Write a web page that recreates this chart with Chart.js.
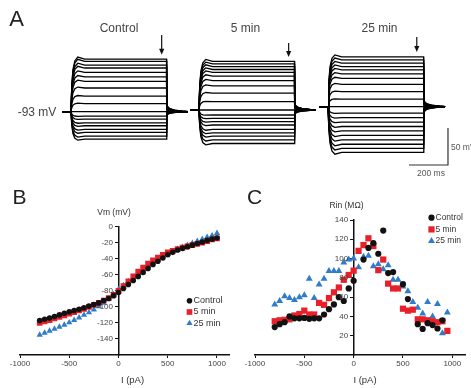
<!DOCTYPE html>
<html>
<head>
<meta charset="utf-8">
<script src="https://cdn.jsdelivr.net/npm/chart.js@4.4.1/dist/chart.umd.min.js"></script>
<style>
  html, body { margin: 0; padding: 0; background: #fff; }
  #fig { position: relative; width: 471px; height: 388px; overflow: hidden; font-family: Arial, "Liberation Sans", sans-serif; }
  canvas { position: absolute; }
  .t { position: absolute; transform: translate(-50%, -50%); line-height: 1; white-space: nowrap; color: #333; }
  .l { position: absolute; transform: translate(0, -50%); line-height: 1; white-space: nowrap; color: #333; }
</style>
</head>
<body>
<div id="fig">
  <canvas id="chart-traces" width="471" height="190" style="left:0;top:0"></canvas>
  <canvas id="chart-iv" width="240" height="208" style="left:0;top:180px"></canvas>
  <canvas id="chart-rin" width="236" height="208" style="left:235px;top:180px"></canvas>

  <div class="t" style="left:16.5px;top:18.5px;font-size:22px;color:#222">A</div>
  <div class="t" style="left:119px;top:28px;font-size:12px;color:#444">Control</div>
  <div class="t" style="left:245.5px;top:28px;font-size:12px;color:#444">5 min</div>
  <div class="t" style="left:379.5px;top:28px;font-size:12px;color:#444">25 min</div>
  <div class="t" style="left:37px;top:111.5px;font-size:12px;color:#444">-93 mV</div>
  <div class="l" style="left:451px;top:147px;font-size:8.5px;color:#555">50 mV</div>
  <div class="t" style="left:431px;top:173px;font-size:8.5px;color:#555">200 ms</div>

  <div class="t" style="left:19.5px;top:195.5px;font-size:21px;color:#222">B</div>
  <div class="t" style="left:114px;top:212px;font-size:8.5px">Vm (mV)</div>
  <div class="t" style="left:132.5px;top:379.5px;font-size:9.5px">I (pA)</div>

  <div class="t" style="left:254.5px;top:195.5px;font-size:21px;color:#222">C</div>
  <div class="t" style="left:346.5px;top:205px;font-size:8.5px">Rin (MΩ)</div>
  <div class="t" style="left:365px;top:379.5px;font-size:9.5px">I (pA)</div>
</div>

<script>
// ---- panel A : voltage responses (steady-state level of each trace, mV)
const controlLevels = [-22, -25, -30, -34, -40, -46, -52, -61, -72, -82, -93, -99, -103, -108, -112, -117, -121, -126, -130];
const min5Levels = [-25, -28.5, -32, -36, -40, -45, -51, -58, -68, -79.5, -90.7, -97.5, -102, -106.5, -111, -117, -121.5, -126, -131, -136];
const min25Levels = [-19, -23, -27.5, -32, -36.5, -42, -48, -56, -66, -76, -86.2, -95, -101, -107, -113, -119, -125, -131, -137, -142.5, -148];
const traceBaselineMv = [-93, -90.7, -86.2];
const traceOnsetMs = [0, 656, 1318];
// time course of a step (ms from onset) and fraction of the steady-state deflection
const stepTimeMs = [-45, 0, 4, 10, 20, 35, 70, 490, 491, 495, 505, 530, 570, 600];
const stepFraction = [0, 0, 0.5, 0.8, 0.97, 1.04, 1, 1, 0.16, 0.1, 0.06, 0.03, 0.01, 0];
const arrowOffsetMs = [465, 460, 455];
const arrowTipMv = [-16, -19, -12.3];
const arrowTailMv = [10.6, -0.2, 8];
const scaleBarCornerMs = 1933;
const scaleBarBottomMv = -165;
const scaleBarMs = 200;
const scaleBarMv = 50;

// ---- panel B : I-V relation
const ivCurrents = [-800, -750, -700, -650, -600, -550, -500, -450, -400, -350, -300, -250, -200, -150, -100, -50, 0,
  50, 100, 150, 200, 250, 300, 350, 400, 450, 500, 550, 600, 650, 700, 750, 800, 850, 900, 950, 1000];
const ivControl = [-117, -115.5, -114, -112, -110, -108, -106, -104.5, -103, -101, -99, -97, -95, -92, -89.5, -86, -82,
  -77, -72, -67, -62, -57, -52, -47, -43, -39, -35, -32, -29, -27, -25, -23, -21, -19, -17, -15.5, -14];
const iv5min = [-120, -118, -116.5, -114.5, -112.5, -110.5, -108.5, -106.5, -104.5, -102.5, -100, -97.5, -95, -92, -89, -85, -80,
  -74, -68, -62, -56, -51, -46, -42, -38.5, -35, -32, -30, -28, -26, -24.5, -23, -21.5, -20, -18, -16, -14.5];
const iv25min = [-135, -132.5, -130, -127.5, -125, -122.5, -119.5, -116.5, -113.5, -110, -107, -103.5, -99.5, -95, -90, -84.5, -78,
  -73, -68, -63, -58, -53, -49, -44.5, -40.5, -37, -34, -31, -28, -25.5, -23, -20.5, -18, -15.5, -13, -11, -8];
const ivTicksX = [-1000, -500, 0, 500, 1000];
const ivTicksY = [0, -20, -40, -60, -80, -100, -120, -140];

// ---- panel C : input resistance
const rinCurrents = [-800, -750, -700, -650, -600, -550, -500, -450, -400, -350, -300, -250, -200, -150, -100, -50, 0,
  50, 100, 150, 200, 250, 300, 350, 400, 450, 500, 550, 600, 650, 700, 750, 800, 850, 900, 950];
const rinControl = [29, 32, 34, 40, 38, 38, 38.5, 37.5, 38, 38, 42, 47.5, 52.5, 60, 56, 69, 77,
  null, 99, 111, 116, 105, 129, 85, 86, null, 73.5, 58, null, 32, 27, 33, 31, 27.5, 36, null];
const rin5min = [35, 36, 36.5, 37, 41, 42.5, 46, 42, 42, 54, 52, 59, 65, 70, 78, 83, 87.5,
  108, 114, 121, 113, 88, 99, 74, 69, 69, 48, 46, 47, 37, 37, 36, 35, 34, 35, 25];
const rin25min = [52.5, 56, 61, 59, 57, 60, 62, 79, 59, 73, 79, 87, 87, 87, 96, 99, 100,
  91, 102, 103, 92, 94, 89, 93, 78, 78, 71, 66, 55, 49, 43, 55, 40, 53, 22.5, 44];
const rinTicksX = [-1000, -500, 0, 500, 1000];
const rinTicksY = [20, 40, 60, 80, 100, 120, 140];

const seriesLabels = ['Control', '5 min', '25 min'];
const seriesColors = ['#111111', '#e8202a', '#2f7cc9'];
const seriesStyles = ['circle', 'rect', 'triangle'];

Chart.defaults.font.family = 'Arial, "Liberation Sans", sans-serif';

function drawMarker(ctx, style, r, x, y) {
  ctx.beginPath();
  if (style === 'circle') {
    ctx.arc(x, y, r, 0, Math.PI * 2);
  } else if (style === 'rect') {
    const s = r * Math.SQRT1_2;
    ctx.rect(x - s, y - s, 2 * s, 2 * s);
  } else {
    ctx.moveTo(x, y - r);
    ctx.lineTo(x + r * 0.866, y + r * 0.5);
    ctx.lineTo(x - r * 0.866, y + r * 0.5);
    ctx.closePath();
  }
  ctx.fill();
}

const inlineLegend = {
  id: 'inlineLegend',
  afterDraw(chart, args, opts) {
    const ctx = chart.ctx;
    ctx.save();
    ctx.font = opts.fontSize + 'px Arial, "Liberation Sans", sans-serif';
    ctx.textBaseline = 'middle';
    chart.data.datasets.forEach((ds, i) => {
      const y = opts.y + i * opts.rowGap;
      ctx.fillStyle = ds.backgroundColor;
      drawMarker(ctx, ds.pointStyle, ds.pointRadius, opts.x, y);
      ctx.fillStyle = '#333';
      ctx.fillText(ds.label, opts.x + opts.textGap, y);
    });
    ctx.restore();
  }
};

// y tick labels drawn just left of the y axis, which crosses at x = 0
const centreAxisLabels = {
  id: 'centreAxisLabels',
  afterDraw(chart) {
    const { ctx, scales: { x, y } } = chart;
    const axisPx = x.getPixelForValue(0);
    ctx.save();
    ctx.font = '8px Arial, "Liberation Sans", sans-serif';
    ctx.fillStyle = '#444';
    ctx.textAlign = 'right';
    ctx.textBaseline = 'middle';
    y.ticks.forEach(t => ctx.fillText(String(t.value), axisPx - 5.5, y.getPixelForValue(t.value)));
    ctx.restore();
  }
};

const arrowMarks = {
  id: 'arrowMarks',
  afterDatasetsDraw(chart) {
    const { ctx, scales: { x, y } } = chart;
    ctx.save();
    ctx.strokeStyle = '#111';
    ctx.fillStyle = '#111';
    ctx.lineWidth = 1.2;
    traceOnsetMs.forEach((onset, k) => {
      const px = x.getPixelForValue(onset + arrowOffsetMs[k]);
      const top = y.getPixelForValue(arrowTailMv[k]);
      const tip = y.getPixelForValue(arrowTipMv[k]);
      ctx.beginPath();
      ctx.moveTo(px, top);
      ctx.lineTo(px, tip - 4);
      ctx.stroke();
      ctx.beginPath();
      ctx.moveTo(px - 2.6, tip - 6);
      ctx.lineTo(px + 2.6, tip - 6);
      ctx.lineTo(px, tip);
      ctx.closePath();
      ctx.fill();
    });
    ctx.restore();
  }
};

// ---- panel A chart
const traceDatasets = [];
[controlLevels, min5Levels, min25Levels].forEach((levels, k) => {
  const base = traceBaselineMv[k];
  levels.forEach(level => {
    traceDatasets.push({
      data: stepTimeMs.map((t, i) => ({ x: traceOnsetMs[k] + t, y: base + stepFraction[i] * (level - base) })),
      showLine: true,
      borderColor: '#000',
      borderWidth: 1.3,
      pointRadius: 0,
    });
  });
});
traceDatasets.push({
  data: [
    { x: scaleBarCornerMs - scaleBarMs, y: scaleBarBottomMv },
    { x: scaleBarCornerMs, y: scaleBarBottomMv },
    { x: scaleBarCornerMs, y: scaleBarBottomMv + scaleBarMv },
  ],
  showLine: true,
  borderColor: '#333',
  borderWidth: 1.2,
  pointRadius: 0,
});

new Chart(document.getElementById('chart-traces'), {
  type: 'scatter',
  data: { datasets: traceDatasets },
  options: {
    responsive: false,
    animation: false,
    devicePixelRatio: 1,
    layout: { padding: 0 },
    plugins: { legend: { display: false }, tooltip: { enabled: false } },
    scales: {
      x: { type: 'linear', display: false, min: -364, max: 2051 },
      y: { type: 'linear', display: false, min: -198.8, max: 57.9 },
    },
  },
  plugins: [arrowMarks],
});

// ---- shared axis styling for B and C
function axisX(min, max, ticks) {
  return {
    type: 'linear',
    min, max,
    afterBuildTicks: s => { s.ticks = ticks.map(v => ({ value: v })); },
    afterFit: s => { s.height = 33; },
    grid: { drawOnChartArea: false, tickLength: 3, color: '#111', lineWidth: 1 },
    border: { color: '#111', width: 1.5 },
    ticks: { font: { size: 8 }, color: '#444', padding: 1, maxRotation: 0, autoSkip: false, callback: v => String(v) },
  };
}
function axisY(min, max, ticks) {
  return {
    type: 'linear',
    position: { x: 0 },
    min, max,
    afterBuildTicks: s => { s.ticks = ticks.map(v => ({ value: v })); },
    grid: { drawOnChartArea: false, tickLength: 3, color: '#111', lineWidth: 1 },
    border: { color: '#111', width: 1.5 },
    ticks: { display: false },
  };
}
function scatterSets(xs, ys, radii) {
  return ys.map((vals, i) => ({
    label: seriesLabels[i],
    data: xs.map((x, j) => ({ x, y: vals[j] })),
    pointStyle: seriesStyles[i],
    pointRadius: radii[i],
    backgroundColor: seriesColors[i],
    borderColor: seriesColors[i],
    borderWidth: 0,
  }));
}

// ---- panel B chart
new Chart(document.getElementById('chart-iv'), {
  type: 'scatter',
  data: { datasets: scatterSets(ivCurrents, [ivControl, iv5min, iv25min], [2.8, 4, 3.6]) },
  options: {
    responsive: false,
    animation: false,
    devicePixelRatio: 1,
    layout: { padding: { left: 20, right: 10.2, top: 46.7, bottom: 0 } },
    plugins: {
      legend: { display: false },
      tooltip: { enabled: false },
      inlineLegend: { x: 189.5, y: 120.7, rowGap: 11.3, textGap: 4, fontSize: 9 },
    },
    scales: { x: axisX(-1000, 1130, ivTicksX), y: axisY(-160, 0, ivTicksY) },
  },
  plugins: [inlineLegend, centreAxisLabels],
});

// ---- panel C chart
new Chart(document.getElementById('chart-rin'), {
  type: 'scatter',
  data: { datasets: scatterSets(rinCurrents, [rinControl, rin5min, rin25min], [3.1, 4.4, 4]) },
  options: {
    responsive: false,
    animation: false,
    devicePixelRatio: 1,
    layout: { padding: { left: 20, right: 5.9, top: 40, bottom: 0 } },
    plugins: {
      legend: { display: false },
      tooltip: { enabled: false },
      inlineLegend: { x: 196.5, y: 37.7, rowGap: 11.7, textGap: 4, fontSize: 8.5 },
    },
    scales: { x: axisX(-1000, 1130, rinTicksX), y: axisY(0, 140, rinTicksY) },
  },
  plugins: [inlineLegend, centreAxisLabels],
});
</script>
</body>
</html>
